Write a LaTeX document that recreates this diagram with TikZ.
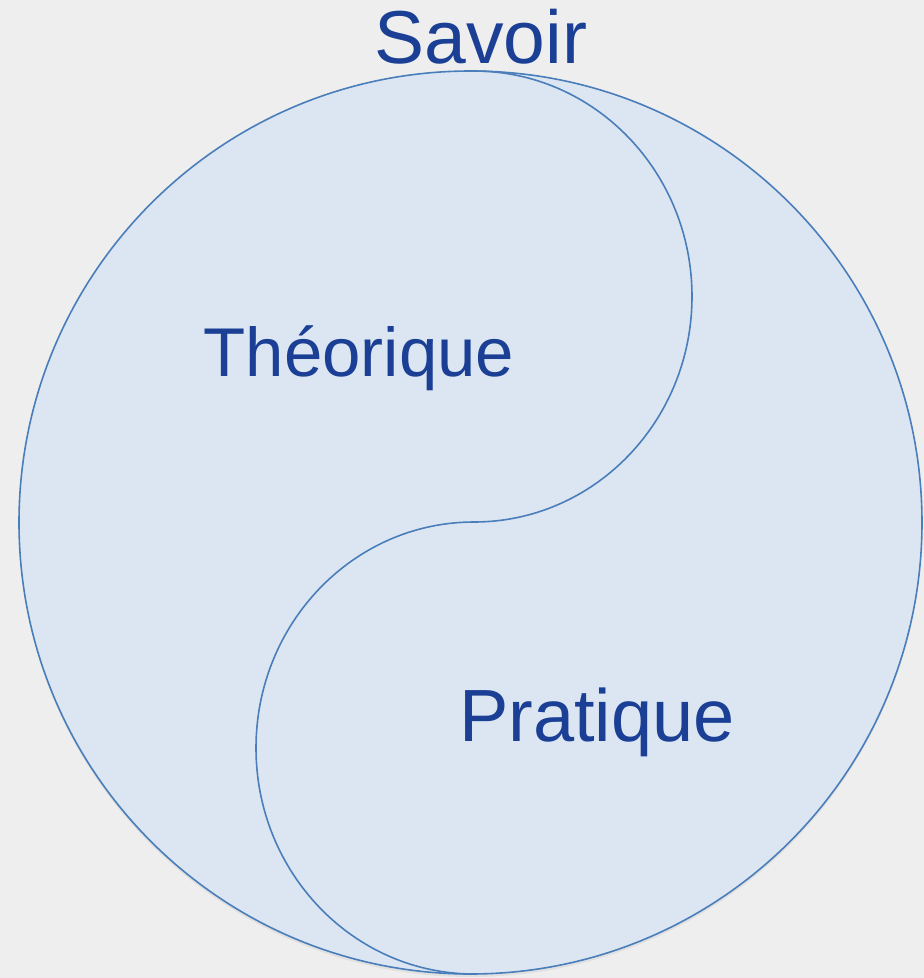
\documentclass[tikz,border=0pt]{standalone}
\usepackage{fontspec}
\setmainfont{Liberation Sans}
\definecolor{bg}{HTML}{EEEEEE}
\definecolor{fillb}{HTML}{DCE6F2}
\definecolor{lineb}{HTML}{4A7EBB}
\definecolor{txt}{HTML}{1A3F95}
\begin{document}
\begin{tikzpicture}[x=1pt,y=1pt,
  lbl/.style={text=txt,inner sep=0pt,anchor=base},
  outline/.style={draw=lineb,line width=1.6pt}]
\fill[bg] (0,0) rectangle (924,-978);
\useasboundingbox (0,0) rectangle (924,-978);
\fill[black!12] (470.5,-525.5) circle (451.5);
\draw[outline,fill=fillb] (470.5,-522.5) circle (451.5);
\draw[outline] (474,-71) arc[start angle=90,end angle=-90,x radius=218,y radius=225.5]
  arc[start angle=90,end angle=270,x radius=218,y radius=226];
\node[lbl,font=\fontsize{75}{84}\selectfont] (savoir) at (481,-63) {Savoir};
\node[lbl,font=\fontsize{69}{78}\selectfont] (theo) at (359,-376) {Théorique};
\node[lbl,font=\fontsize{74}{83}\selectfont] (prat) at (597,-741) {Pratique};
\end{tikzpicture}
\end{document}
